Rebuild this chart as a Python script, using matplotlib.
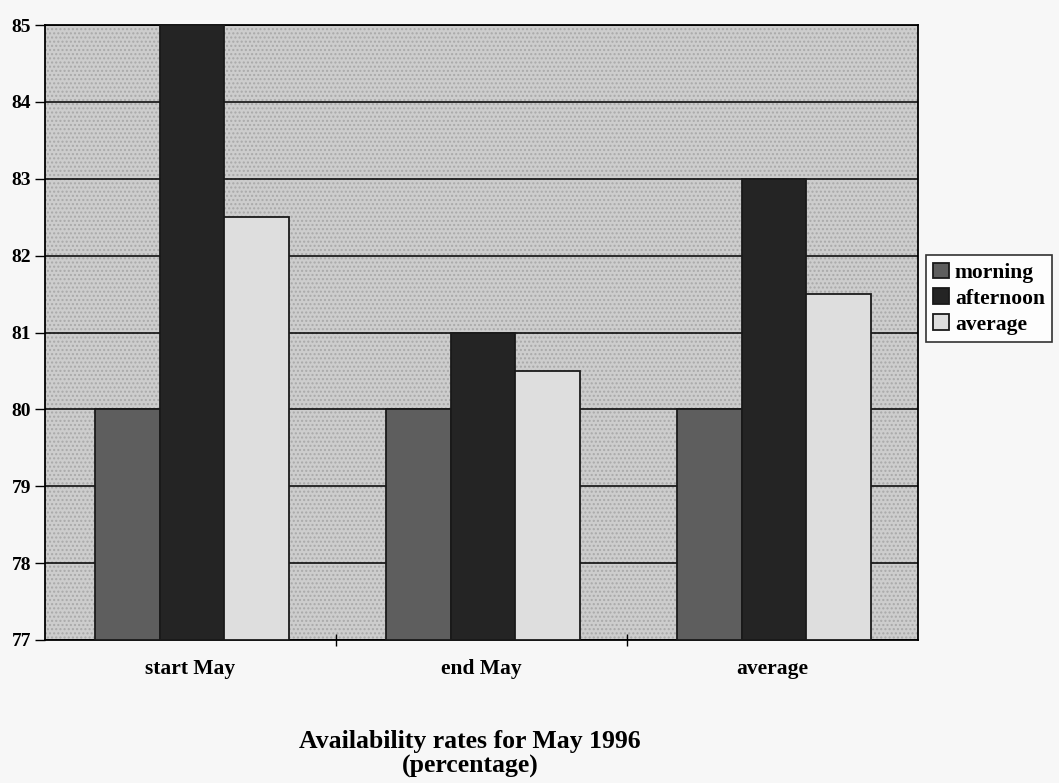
import matplotlib.pyplot as plt
import numpy as np

plt.rcParams['font.family'] = ['Liberation Serif', 'DejaVu Serif']

periods = ["start May", "end May", "average"]
series_names = ["morning", "afternoon", "average"]
morning = [80, 80, 80]
afternoon = [85, 81, 83]
average = [82.5, 80.5, 81.5]
y_ticks = [77, 78, 79, 80, 81, 82, 83, 84, 85]

fig = plt.figure(figsize=(10.59, 7.83), dpi=100, facecolor='#f7f7f7')
ax = fig.add_axes([45 / 1059, 1 - 640 / 783, 873 / 1059, 615 / 783])

# grey dotted plot area
ax.set_facecolor('#cdcdcd')
ax.patch.set_hatch('....')
ax.patch.set_edgecolor('#a9a9a9')
ax.patch.set_linewidth(0)

x = np.arange(len(periods))
w = 0.222
fills = ['#5e5e5e', '#242424', '#dedede']
for i, (vals, col) in enumerate(zip([morning, afternoon, average], fills)):
    ax.bar(x + (i - 1) * w + 0.005, np.array(vals) - 77, w, bottom=77, color=col,
           edgecolor='#1a1a1a', linewidth=1.3, label=series_names[i], zorder=3)

ax.set_ylim(77, 85)
ax.set_xlim(-0.5, 2.5)
ax.set_yticks(y_ticks)
ax.set_yticklabels([str(t) for t in y_ticks], fontsize=14, fontweight='bold')
ax.yaxis.grid(True, color='black', linewidth=1.1, zorder=1)
ax.set_axisbelow(True)

# category labels in the middle, tick marks on the boundaries
ax.set_xticks([0.5, 1.5])
ax.set_xticklabels([])
ax.set_xticks(x, minor=True)
ax.set_xticklabels(periods, minor=True, fontsize=15.5, fontweight='bold')
ax.tick_params(axis='x', which='minor', length=0, pad=14)
ax.tick_params(axis='x', which='major', direction='inout', length=8, width=1)
ax.tick_params(axis='y', direction='out', length=7, width=1, pad=3)

for s in ax.spines.values():
    s.set_linewidth(1.3)

leg = ax.legend(loc='center left', bbox_to_anchor=(1.004, 0.555), fontsize=15.5,
                frameon=True, fancybox=False, edgecolor='black', facecolor='white',
                handlelength=0.75, handleheight=0.75, handletextpad=0.25,
                borderpad=0.35, labelspacing=0.25, borderaxespad=0.2)
leg.get_frame().set_linewidth(1.2)
for t in leg.get_texts():
    t.set_fontweight('bold')

fig.text(470 / 1059, 1 - 754 / 783, "Availability rates for May 1996\n(percentage)",
         ha='center', va='center', fontsize=18.5, fontweight='bold', linespacing=1.1)

fig.savefig('out.png', dpi=100, facecolor=fig.get_facecolor())
